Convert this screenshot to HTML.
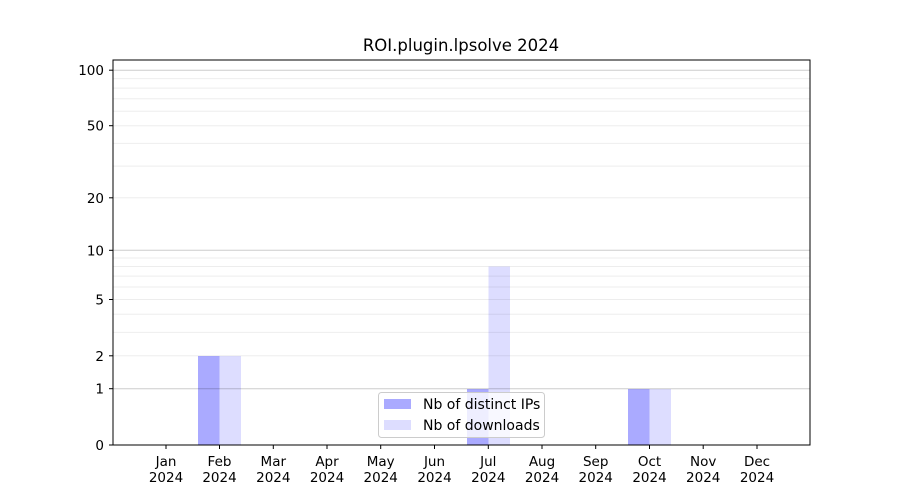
<!DOCTYPE html>
<html><head><meta charset="utf-8"><style>body{margin:0;background:#fff}svg{display:block}text{font-family:"DejaVu Sans","Liberation Sans",sans-serif;font-size:13.5px;fill:#000}</style></head>
<body>
<svg width="900" height="500" viewBox="0 0 900 500" xmlns="http://www.w3.org/2000/svg">
<rect width="900" height="500" fill="#fff"/>
<g shape-rendering="crispEdges">
<rect x="198" y="356" width="21.5" height="89" fill="#aaaaff"/>
<rect x="219.5" y="356" width="21.5" height="89" fill="#ddddff"/>
<rect x="467" y="389" width="21.5" height="56" fill="#aaaaff"/>
<rect x="488.5" y="266.5" width="21.5" height="178.5" fill="#ddddff"/>
<rect x="628" y="389" width="21.5" height="56" fill="#aaaaff"/>
<rect x="649.5" y="389" width="21.5" height="56" fill="#ddddff"/>
</g>
<g stroke="#000" stroke-opacity="0.07" stroke-width="1">
<line x1="113" x2="810" y1="355.8" y2="355.8"/>
<line x1="113" x2="810" y1="332.4" y2="332.4"/>
<line x1="113" x2="810" y1="314.3" y2="314.3"/>
<line x1="113" x2="810" y1="299.5" y2="299.5"/>
<line x1="113" x2="810" y1="287" y2="287"/>
<line x1="113" x2="810" y1="276.1" y2="276.1"/>
<line x1="113" x2="810" y1="266.5" y2="266.5"/>
<line x1="113" x2="810" y1="258" y2="258"/>
<line x1="113" x2="810" y1="197.8" y2="197.8"/>
<line x1="113" x2="810" y1="166.1" y2="166.1"/>
<line x1="113" x2="810" y1="143.4" y2="143.4"/>
<line x1="113" x2="810" y1="125.7" y2="125.7"/>
<line x1="113" x2="810" y1="111.2" y2="111.2"/>
<line x1="113" x2="810" y1="98.8" y2="98.8"/>
<line x1="113" x2="810" y1="88.1" y2="88.1"/>
<line x1="113" x2="810" y1="78.6" y2="78.6"/>
</g>
<g stroke="#000" stroke-opacity="0.2" stroke-width="1">
<line x1="113" x2="810" y1="388.7" y2="388.7"/>
<line x1="113" x2="810" y1="250.3" y2="250.3"/>
<line x1="113" x2="810" y1="70.2" y2="70.2"/>
</g>
<rect x="113" y="60" width="697" height="385" fill="none" stroke="#000" stroke-width="1"/>
<g stroke="#000">
<line x1="109" x2="113" y1="445" y2="445"/>
<line x1="109" x2="113" y1="388.7" y2="388.7"/>
<line x1="109" x2="113" y1="355.8" y2="355.8"/>
<line x1="109" x2="113" y1="299.5" y2="299.5"/>
<line x1="109" x2="113" y1="250.3" y2="250.3"/>
<line x1="109" x2="113" y1="197.8" y2="197.8"/>
<line x1="109" x2="113" y1="125.7" y2="125.7"/>
<line x1="109" x2="113" y1="70.2" y2="70.2"/>
</g>
<g text-anchor="end">
<text x="104" y="450">0</text>
<text x="104" y="393.7">1</text>
<text x="104" y="360.8">2</text>
<text x="104" y="304.5">5</text>
<text x="104" y="255.3">10</text>
<text x="104" y="202.8">20</text>
<text x="104" y="130.7">50</text>
<text x="104" y="75.2">100</text>
</g>
<g stroke="#000">
<line x1="166" x2="166" y1="445" y2="449"/>
<line x1="219.5" x2="219.5" y1="445" y2="449"/>
<line x1="273.3" x2="273.3" y1="445" y2="449"/>
<line x1="327" x2="327" y1="445" y2="449"/>
<line x1="380.7" x2="380.7" y1="445" y2="449"/>
<line x1="434.5" x2="434.5" y1="445" y2="449"/>
<line x1="488.3" x2="488.3" y1="445" y2="449"/>
<line x1="542" x2="542" y1="445" y2="449"/>
<line x1="595.7" x2="595.7" y1="445" y2="449"/>
<line x1="649.5" x2="649.5" y1="445" y2="449"/>
<line x1="703.2" x2="703.2" y1="445" y2="449"/>
<line x1="757" x2="757" y1="445" y2="449"/>
</g>
<g text-anchor="middle">
<text x="166" y="466">Jan</text><text x="166" y="482">2024</text>
<text x="219.5" y="466">Feb</text><text x="219.5" y="482">2024</text>
<text x="273.3" y="466">Mar</text><text x="273.3" y="482">2024</text>
<text x="327" y="466">Apr</text><text x="327" y="482">2024</text>
<text x="380.7" y="466">May</text><text x="380.7" y="482">2024</text>
<text x="434.5" y="466">Jun</text><text x="434.5" y="482">2024</text>
<text x="488.3" y="466">Jul</text><text x="488.3" y="482">2024</text>
<text x="542" y="466">Aug</text><text x="542" y="482">2024</text>
<text x="595.7" y="466">Sep</text><text x="595.7" y="482">2024</text>
<text x="649.5" y="466">Oct</text><text x="649.5" y="482">2024</text>
<text x="703.2" y="466">Nov</text><text x="703.2" y="482">2024</text>
<text x="757" y="466">Dec</text><text x="757" y="482">2024</text>
<text x="461" y="51" style="font-size:16.5px">ROI.plugin.lpsolve 2024</text>
</g>
<rect x="378.5" y="392.5" width="166" height="45" rx="3" fill="#fff" fill-opacity="0.8" stroke="#ccc"/>
<rect x="384" y="399" width="27" height="10" fill="#aaaaff"/>
<rect x="384" y="420" width="27" height="10" fill="#ddddff"/>
<text x="423" y="409" style="font-size:14px">Nb of distinct IPs</text>
<text x="423" y="430" style="font-size:14px">Nb of downloads</text>
</svg>
</body></html>
